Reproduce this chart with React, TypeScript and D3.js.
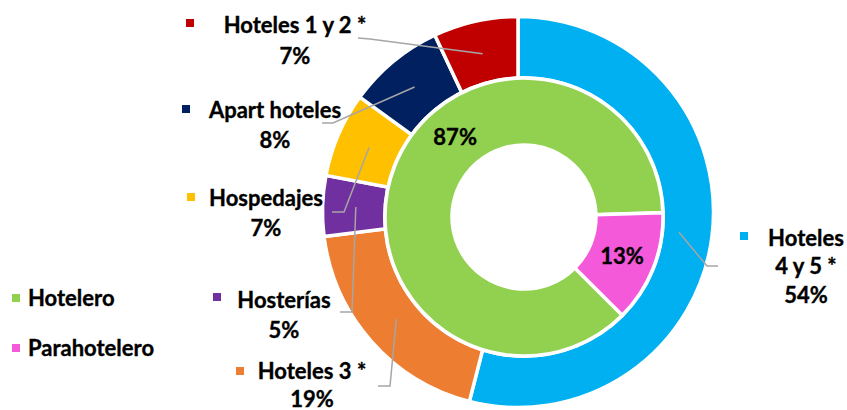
import React from "react";
import * as d3 from "d3";

// ---- data ----
const outerCategories = ["Hoteles 4 y 5 *", "Hoteles 3 *", "Hosterías", "Hospedajes", "Apart hoteles", "Hoteles 1 y 2 *"];
const outerValues = [54, 19, 5, 7, 8, 7];
const innerCategories = ["Hotelero", "Parahotelero"];
const innerValues = [87, 13];

// ---- styles ----
const outerColors = ["#00B0F0", "#ED7D31", "#7030A0", "#FFC000", "#002060", "#C00000"];
const innerColors = ["#92D050", "#F359D9"];
const FONT = "Lato, 'Open Sans', sans-serif";
const FS = 22;
const LEADER = "#A6A6A6";

// ---- layout (label placement) ----
const outerLabelLines = [["Hoteles", "4 y 5 *"], ["Hoteles 3 *"], ["Hosterías"], ["Hospedajes"], ["Apart hoteles"], ["Hoteles 1 y 2 *"]];
const outerLabelLayout = [
  { cx: 806, y0: 238, gap: 28.5, mx: 740, my: 232, elbow: [707, 266], end: [718, 266] },
  { cx: 312, y0: 371, gap: 28, mx: 236, my: 367, elbow: [390, 386], end: [378, 386] },
  { cx: 284, y0: 300, gap: 30, mx: 213, my: 293, elbow: [352, 312], end: [340, 312] },
  { cx: 266, y0: 198, gap: 30, mx: 187, my: 193, elbow: [344, 212], end: [332, 212] },
  { cx: 275, y0: 110, gap: 30, mx: 182, my: 105, elbow: [333, 123], end: [322, 123] },
  { cx: 295, y0: 25, gap: 31, mx: 186, my: 19, elbow: [370, 39], end: [358, 38] },
];
const legendLayout = [
  { mx: 12, my: 294, tx: 28, ty: 298 },
  { mx: 12, my: 344, tx: 28, ty: 348 },
];

const OUTER_C = [518, 212];
const INNER_C = [524, 217];
const outerArc = d3.arc<any>().innerRadius(129).outerRadius(195.5);
const innerArc = d3.arc<any>().innerRadius(72).outerRadius(139);

const textProps = { fontSize: FS, fontWeight: "bold", fill: "#000", stroke: "#000", strokeWidth: 0.35 };

export default function App() {
  const outerPie = d3.pie<number>().sort(null).startAngle(0).endAngle(2 * Math.PI)(outerValues);
  const innerStart = (135 * Math.PI) / 180;
  const innerPie = d3.pie<number>().sort(null).startAngle(innerStart).endAngle(innerStart + 2 * Math.PI)(innerValues);
  const total = d3.sum(outerValues);
  const innerTotal = d3.sum(innerValues);

  // 87% label placed in upper-left of Hotelero arc
  const a87 = (319 * Math.PI) / 180;
  const p87 = d3.pointRadial(a87, 105);
  const c13 = innerArc.centroid(innerPie[1]);

  return (
    <svg width={847} height={410} style={{ position: "absolute", left: 0, top: 0, background: "#fff" }} fontFamily={FONT}>
      <g transform={`translate(${OUTER_C[0]},${OUTER_C[1]})`}>
        {outerPie.map((d, i) => (
          <path key={i} d={outerArc(d) as string} fill={outerColors[i]} stroke="#fff" strokeWidth={3.5} />
        ))}
      </g>
      <g transform={`translate(${INNER_C[0]},${INNER_C[1]})`}>
        <circle r={141} fill="#fff" />
        {innerPie.map((d, i) => (
          <path key={i} d={innerArc(d) as string} fill={innerColors[i]} stroke="#fff" strokeWidth={3.5} />
        ))}
        <text x={p87[0]} y={p87[1]} dy="0.35em" textAnchor="middle" {...textProps}>
          {Math.round((innerValues[0] / innerTotal) * 100)}%
        </text>
        <text x={c13[0]} y={c13[1]} dy="0.35em" textAnchor="middle" {...textProps}>
          {Math.round((innerValues[1] / innerTotal) * 100)}%
        </text>
      </g>
      {outerPie.map((d, i) => {
        const c = outerArc.centroid(d);
        const L = outerLabelLayout[i];
        const p0 = [c[0] + OUTER_C[0], c[1] + OUTER_C[1]];
        const lines = [...outerLabelLines[i], `${Math.round((outerValues[i] / total) * 100)}%`];
        return (
          <g key={i}>
            <polyline
              points={`${p0[0]},${p0[1]} ${L.elbow[0]},${L.elbow[1]} ${L.end[0]},${L.end[1]}`}
              fill="none"
              stroke={LEADER}
              strokeWidth={1.5}
            />
            <rect x={L.mx} y={L.my} width={8} height={8} fill={outerColors[i]} />
            {lines.map((t, j) => (
              <text key={j} x={L.cx} y={L.y0 + j * L.gap} dy="0.35em" textAnchor="middle" {...textProps}>
                {t}
              </text>
            ))}
          </g>
        );
      })}
      {innerCategories.map((name, i) => (
        <g key={name}>
          <rect x={legendLayout[i].mx} y={legendLayout[i].my} width={8} height={8} fill={innerColors[i]} />
          <text x={legendLayout[i].tx} y={legendLayout[i].ty} dy="0.35em" {...textProps}>
            {name}
          </text>
        </g>
      ))}
    </svg>
  );
}
